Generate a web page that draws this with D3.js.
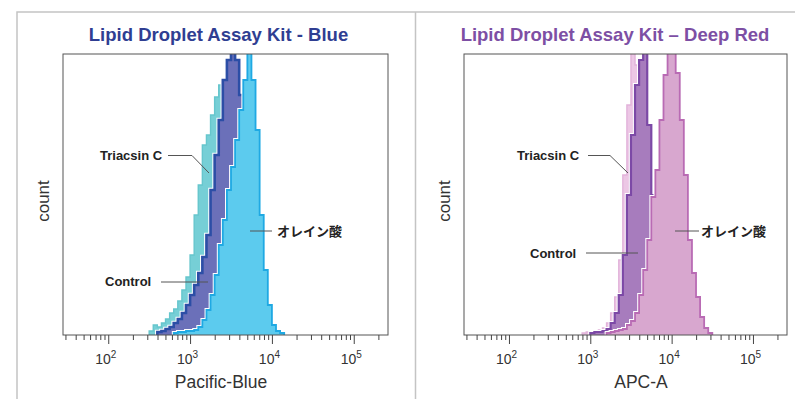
<!DOCTYPE html>
<meta charset="utf-8">
<script src="https://cdn.jsdelivr.net/npm/d3@7"></script>
<style>
  body { margin: 0; background: #fff; }
  svg { font-family: 'Liberation Sans', Arial, sans-serif; display: block; }
</style>
<div id="chart"></div>
<script>
// histogram bins are 0.05 decades wide, each series starts at log10(start)
const binWidth = 0.05;
const majorTicks = [1e2, 1e3, 1e4, 1e5];

// Lipid Droplet Assay Kit - Blue (Pacific-Blue)
const blueTriacsinStart = 2.5;
const blueTriacsin = [4, 10, 8, 12, 16, 22, 26, 34, 45, 58, 80, 120, 150, 190, 200, 220, 238, 250, 240, 200, 150, 100, 60, 30, 12, 4];
const blueControlStart = 2.6;
const blueControl = [3, 4, 6, 8, 12, 16, 22, 30, 40, 50, 62, 78, 100, 145, 180, 215, 255, 275, 300, 275, 240, 180, 120, 70, 35, 15, 6];
const blueOleicStart = 2.8;
const blueOleic = [2, 3, 3, 4, 4, 5, 8, 15, 25, 40, 60, 90, 115, 145, 168, 195, 225, 255, 300, 255, 205, 120, 65, 30, 10, 4, 2];

// Lipid Droplet Assay Kit – Deep Red (APC-A)
const redTriacsinStart = 2.9;
const redTriacsin = [2, 3, 3, 4, 5, 7, 12, 22, 38, 75, 160, 230, 285, 270, 220, 150, 90, 45, 20, 6];
const redControlStart = 3.0;
const redControl = [2, 3, 3, 4, 6, 12, 22, 40, 80, 140, 200, 250, 275, 300, 210, 140, 80, 35, 12, 4];
const redOleicStart = 3.2;
const redOleic = [2, 3, 4, 5, 6, 10, 14, 22, 40, 65, 95, 138, 165, 215, 260, 285, 300, 262, 215, 160, 95, 62, 38, 18, 7, 2];

const width = 795, height = 399;
const svg = d3.select("#chart").append("svg")
    .attr("width", width)
    .attr("height", height);

// outer light frame + divider
svg.append("path")
    .attr("d", "M17,399V12H795 M415.5,12V399")
    .attr("fill", "none")
    .attr("stroke", "#c4c4c4")
    .attr("stroke-width", 1.5);

const panels = [
    {
        id: "blue", left: 63, right: 388, title: "Lipid Droplet Assay Kit - Blue", titleX: 218.5,
        titleColor: "#2f3e92", xLabel: "Pacific-Blue", xLabelX: 221, countX: 49,
        series: [
            {start: blueTriacsinStart, values: blueTriacsin, fill: "#76cfd6", stroke: "#66c6cd", sw: 1.4},
            {start: blueControlStart, values: blueControl, fill: "#6b70b9", stroke: "#2c4ea6", sw: 2.6},
            {start: blueOleicStart, values: blueOleic, fill: "#5ccbee", stroke: "#1fa9e3", sw: 1.8}
        ],
        notes: [
            {text: "Triacsin C", x: 100, y: 160, line: [[168, 155.5], [192, 155.5], [209, 173]]},
            {text: "Control", x: 105, y: 286, line: [[161, 282], [208, 282]]},
            {text: "オレイン酸", x: 277, y: 236, line: [[250, 231], [272, 231]], cjk: true}
        ]
    },
    {
        id: "red", left: 464, right: 787, title: "Lipid Droplet Assay Kit – Deep Red", titleX: 615,
        titleColor: "#7d4fa4", xLabel: "APC-A", xLabelX: 641, countX: 450,
        series: [
            {start: redTriacsinStart, values: redTriacsin, fill: "#ecc7e5", stroke: "#e2b3da", sw: 1.4},
            {start: redControlStart, values: redControl, fill: "#a77cbd", stroke: "#7c49a6", sw: 2.2},
            {start: redOleicStart, values: redOleic, fill: "#d8a7cf", stroke: "#b96bb4", sw: 1.8}
        ],
        notes: [
            {text: "Triacsin C", x: 517, y: 160, line: [[588, 155.5], [610, 155.5], [628, 173]]},
            {text: "Control", x: 530, y: 258, line: [[586, 253], [638, 253]]},
            {text: "オレイン酸", x: 701, y: 236, line: [[675, 231], [699, 231]], cjk: true}
        ]
    }
];

const plotTop = 54, plotBottom = 335;
const y = d3.scaleLinear().domain([0, 281]).range([plotBottom, plotTop]);

// minor tick values 2..9 x 10^d inside the axis range
const minorTicks = [];
for (let d = 1; d <= 5; d++) {
    for (let k = 2; k <= 9; k++) minorTicks.push(k * Math.pow(10, d));
}

panels.forEach(function (p) {
    const x = d3.scaleLog().domain([28, 262144]).range([p.left, p.right]);
    const g = svg.append("g");

    g.append("clipPath").attr("id", "clip-" + p.id)
        .append("rect")
        .attr("x", p.left).attr("y", plotTop)
        .attr("width", p.right - p.left).attr("height", plotBottom - plotTop);

    const plot = g.append("g").attr("clip-path", "url(#clip-" + p.id + ")");

    const line = d3.line()
        .x(d => x(Math.pow(10, d[0])))
        .y(d => y(d[1]))
        .curve(d3.curveStepAfter);

    p.series.forEach(function (s) {
        const pts = [[s.start, 0]];
        s.values.forEach(function (v, i) {
            pts.push([s.start + i * binWidth, v]);
        });
        pts.push([s.start + s.values.length * binWidth, 0]);
        const d = line(pts);
        plot.append("path").attr("d", d)
            .attr("fill", "none").attr("stroke", "#fff").attr("stroke-width", s.sw + 2);
        plot.append("path").attr("d", d)
            .attr("fill", s.fill).attr("stroke", "none");
        plot.append("path").attr("d", d)
            .attr("fill", "none").attr("stroke", s.stroke).attr("stroke-width", s.sw);
    });

    // plot frame
    g.append("rect")
        .attr("x", p.left).attr("y", plotTop)
        .attr("width", p.right - p.left).attr("height", plotBottom - plotTop)
        .attr("fill", "none").attr("stroke", "#555").attr("stroke-width", 1);

    // minor ticks
    g.append("g")
        .attr("transform", "translate(0," + plotBottom + ")")
        .call(d3.axisBottom(x).tickValues(minorTicks.filter(v => v > 28 && v < 262144)).tickSize(5).tickSizeOuter(0).tickFormat(""))
        .call(a => a.select(".domain").remove())
        .call(a => a.selectAll("line").attr("stroke", "#444"));

    // major ticks + labels
    const major = g.append("g")
        .attr("transform", "translate(0," + plotBottom + ")")
        .call(d3.axisBottom(x).tickValues(majorTicks).tickSize(9).tickSizeOuter(0).tickFormat(""))
        .call(a => a.select(".domain").remove())
        .call(a => a.selectAll("line").attr("stroke", "#444"));

    major.selectAll(".tick").each(function (v) {
        const t = d3.select(this).append("text")
            .attr("y", 29)
            .attr("x", -3)
            .attr("fill", "#333")
            .attr("font-size", 14)
            .attr("text-anchor", "middle");
        t.append("tspan").text("10");
        t.append("tspan").attr("dy", -6).attr("font-size", 10).text(Math.round(Math.log10(v)));
    });

    // title
    g.append("text")
        .attr("x", p.titleX).attr("y", 41)
        .attr("text-anchor", "middle")
        .attr("font-size", 18.5).attr("font-weight", "bold")
        .attr("fill", p.titleColor)
        .text(p.title);

    // axis labels
    g.append("text")
        .attr("x", p.xLabelX).attr("y", 388)
        .attr("text-anchor", "middle")
        .attr("font-size", 17.5).attr("fill", "#333")
        .text(p.xLabel);

    g.append("text")
        .attr("transform", "translate(" + p.countX + ",201) rotate(-90)")
        .attr("text-anchor", "middle")
        .attr("font-size", 17).attr("fill", "#333")
        .text("count");

    // annotations
    p.notes.forEach(function (n) {
        g.append("path")
            .attr("d", d3.line()(n.line))
            .attr("fill", "none").attr("stroke", "#555").attr("stroke-width", 1);
        g.append("text")
            .attr("x", n.x).attr("y", n.y)
            .attr("font-size", 13).attr("font-weight", "bold").attr("fill", "#222")
            .style("font-family", n.cjk ? "'Noto Sans CJK JP', sans-serif" : null)
            .text(n.text);
    });
});
</script>
